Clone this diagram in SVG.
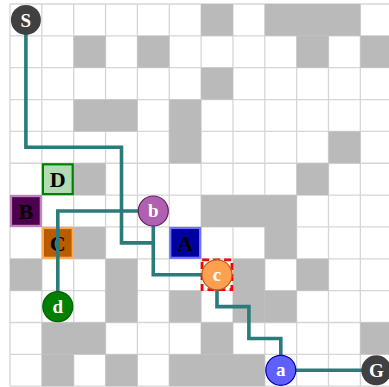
<svg xmlns="http://www.w3.org/2000/svg" width="389" height="387" viewBox="0 0 389 387">
<style>
.wall{fill:#bababa}
.grid{stroke:#d6d6d6;stroke-width:1.3}
.path{fill:none;stroke:#2b7b7b;stroke-width:3.6;stroke-linejoin:miter}
.ct{font-family:"Liberation Serif",serif;font-weight:bold;font-size:19px;fill:#fff;text-anchor:middle}
.st{font-family:"Liberation Serif",serif;font-weight:bold;font-size:22px;fill:#000;text-anchor:middle}
.sq{stroke-width:2.2}
</style>
<rect width="389" height="387" fill="#fff"/>
<g id="grid" class="grid">
<path d="M10,4V386.2M41.85,4V386.2M73.7,4V386.2M105.55,4V386.2M137.4,4V386.2M169.25,4V386.2M201.1,4V386.2M232.95,4V386.2M264.8,4V386.2M296.65,4V386.2M328.5,4V386.2M360.35,4V386.2M10,4H392M10,35.85H392M10,67.7H392M10,99.55H392M10,131.4H392M10,163.25H392M10,195.1H392M10,226.95H392M10,258.8H392M10,290.65H392M10,322.5H392M10,354.35H392M10,386.2H392"/>
</g>
<g id="walls" class="wall">
<rect x="201.1" y="4" width="31.85" height="31.85"/>
<rect x="264.8" y="4" width="95.55" height="31.85"/>
<rect x="73.7" y="35.85" width="31.85" height="31.85"/>
<rect x="137.4" y="35.85" width="31.85" height="31.85"/>
<rect x="296.65" y="35.85" width="31.85" height="31.85"/>
<rect x="360.35" y="35.85" width="31.85" height="31.85"/>
<rect x="201.1" y="67.7" width="31.85" height="31.85"/>
<rect x="73.7" y="99.55" width="63.7" height="31.85"/>
<rect x="169.25" y="99.55" width="31.85" height="63.7"/>
<rect x="328.5" y="131.4" width="31.85" height="31.85"/>
<rect x="73.7" y="163.25" width="31.85" height="31.85"/>
<rect x="296.65" y="163.25" width="31.85" height="31.85"/>
<rect x="201.1" y="195.1" width="95.55" height="31.85"/>
<rect x="73.7" y="226.95" width="31.85" height="31.85"/>
<rect x="264.8" y="226.95" width="31.85" height="31.85"/>
<rect x="10" y="258.8" width="31.85" height="31.85"/>
<rect x="105.55" y="258.8" width="31.85" height="63.7"/>
<rect x="232.95" y="258.8" width="31.85" height="63.7"/>
<rect x="296.65" y="258.8" width="31.85" height="31.85"/>
<rect x="169.25" y="290.65" width="31.85" height="31.85"/>
<rect x="264.8" y="290.65" width="31.85" height="31.85"/>
<rect x="41.85" y="322.5" width="63.7" height="31.85"/>
<rect x="201.1" y="322.5" width="31.85" height="31.85"/>
<rect x="360.35" y="322.5" width="31.85" height="31.85"/>
<rect x="41.85" y="354.35" width="31.85" height="31.85"/>
<rect x="105.55" y="354.35" width="31.85" height="31.85"/>
<rect x="169.25" y="354.35" width="95.55" height="31.85"/>
</g>
<g id="nodes-squares">
<g id="D"><rect class="sq" x="42.9" y="164.3" width="29.8" height="29.8" fill="#b3dbb3" stroke="#008000"/><text class="st" x="57.8" y="187">D</text></g>
<g id="B"><rect class="sq" x="11" y="196.1" width="29.8" height="29.8" fill="#4d004d" stroke="#c080c0"/><text class="st" x="25.9" y="218.8">B</text></g>
<g id="C"><rect class="sq" x="42.9" y="228" width="29.8" height="29.8" fill="#b85c00" stroke="#ffa850"/><text class="st" x="57.8" y="250.7">C</text></g>
<g id="A"><rect class="sq" x="170.3" y="228" width="29.8" height="29.8" fill="#0000a0" stroke="#7070ff"/><text class="st" x="185.2" y="250.7">A</text></g>
</g>
<g id="connectors" class="path">
<polyline points="25.9,19.9 25.9,147.3 121.5,147.3 121.5,242.9 153.3,242.9"/>
<polyline points="153.3,211 153.3,274.8 217,274.8 217,306.6 248.9,306.6 248.9,338.5 280.8,338.5 280.8,370.3 376.3,370.3"/>
<polyline points="153.3,211 57.8,211 57.8,306.6"/>
</g>
<g id="S"><circle cx="25.9" cy="19.9" r="15" fill="#404040"/><text class="ct" x="25.9" y="26.5">S</text></g>
<g id="G"><circle cx="376.3" cy="370.3" r="15" fill="#404040"/><text class="ct" x="376.3" y="376.9">G</text></g>
<g id="b"><circle cx="153.3" cy="211" r="15" fill="#b060b0" stroke="#602060" stroke-width="1.2"/><text class="ct" x="153.3" y="217">b</text></g>
<g id="c"><rect x="202.1" y="259.8" width="29.8" height="29.8" fill="none" stroke="#ff0000" stroke-width="2.8" stroke-dasharray="7,4"/><circle cx="217" cy="274.8" r="15" fill="#ffa050" stroke="#b06020" stroke-width="1.2"/><text class="ct" x="217" y="280.8">c</text></g>
<g id="d"><circle cx="57.8" cy="306.6" r="15" fill="#008000" stroke="#006000" stroke-width="1.2"/><text class="ct" x="57.8" y="312.8">d</text></g>
<g id="a"><circle cx="280.8" cy="370.3" r="15" fill="#6060ff" stroke="#0000b0" stroke-width="1.2"/><text class="ct" x="280.8" y="376.3">a</text></g>
</svg>
